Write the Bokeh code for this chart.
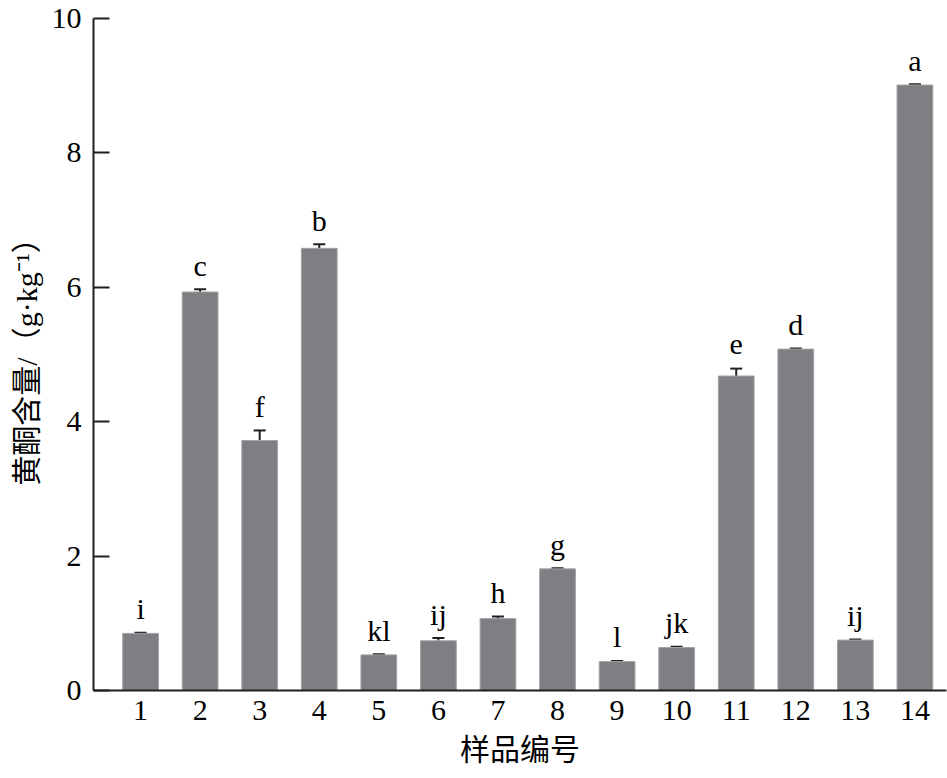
from bokeh.plotting import figure
from bokeh.models import ColumnDataSource, Whisker, TeeHead, FixedTicker, Range1d
from bokeh.core.properties import value
from bokeh.embed import file_html
from bokeh.resources import INLINE

samples = list(range(1, 15))
tick_labels = [str(s) for s in samples]
means = [0.85, 5.93, 3.72, 6.58, 0.53, 0.74, 1.07, 1.81, 0.43, 0.64, 4.68, 5.08, 0.75, 9.01]
errors = [0.01, 0.04, 0.15, 0.06, 0.01, 0.04, 0.03, 0.01, 0.01, 0.01, 0.11, 0.01, 0.01, 0.01]
letters = ["i", "c", "f", "b", "kl", "ij", "h", "g", "l", "jk", "e", "d", "ij", "a"]

FONT = "'Liberation Serif', 'Noto Sans CJK SC', serif"
INK = "#231f20"

src = ColumnDataSource(dict(
    x=samples, top=means,
    upper=[m + e for m, e in zip(means, errors)],
    lower=[m - e for m, e in zip(means, errors)],
    letter=letters,
))

p = figure(width=947, height=778, output_backend="svg", toolbar_location=None,
           x_range=Range1d(0.21, 14.53), y_range=Range1d(0, 10),
           min_border_left=93, min_border_top=18, min_border_right=1, min_border_bottom=88)

p.vbar(x="x", top="top", width=0.6, bottom=0, source=src,
       fill_color="#7e7f83", line_color="#a2a3a6", line_width=1)

w = Whisker(source=src, base="x", upper="upper", lower="lower",
            line_color=INK, line_width=2,
            upper_head=TeeHead(size=12, line_color=INK, line_width=2),
            lower_head=TeeHead(size=12, line_color=INK, line_width=2))
p.add_layout(w)

p.text(x="x", y="upper", text="letter", source=src, text_align="center",
       text_baseline="alphabetic", y_offset=-24,
       text_font=value(FONT), text_font_size="30px", text_color="black")

p.grid.visible = False
p.outline_line_color = None
p.background_fill_color = "white"

p.xaxis.ticker = FixedTicker(ticks=samples)
p.xaxis.major_label_overrides = {s: l for s, l in zip(samples, tick_labels)}
p.xaxis.major_tick_in = 0
p.xaxis.major_tick_out = 0
p.xaxis.minor_tick_line_color = None
p.xaxis.major_label_standoff = 10
p.xaxis.axis_label = "样品编号"
p.xaxis.axis_label_standoff = 10

p.yaxis.ticker = FixedTicker(ticks=[0, 2, 4, 6, 8, 10])
p.yaxis.major_tick_in = 16
p.yaxis.major_tick_out = 0
p.yaxis.minor_tick_line_color = None
p.yaxis.major_label_standoff = 12
p.yaxis.axis_label = "黄酮含量/（g·kg⁻¹）"
p.yaxis.axis_label_standoff = 6

for ax in (p.xaxis, p.yaxis):
    ax.axis_line_color = INK
    ax.axis_line_width = 2
    ax.major_tick_line_color = INK
    ax.major_tick_line_width = 2
    ax.major_label_text_font = FONT
    ax.major_label_text_font_size = "30px"
    ax.major_label_text_color = "black"
    ax.axis_label_text_font = FONT
    ax.axis_label_text_font_size = "30px"
    ax.axis_label_text_font_style = "normal"
    ax.axis_label_text_color = "black"

open("out.html", "w").write(file_html(p, INLINE))
